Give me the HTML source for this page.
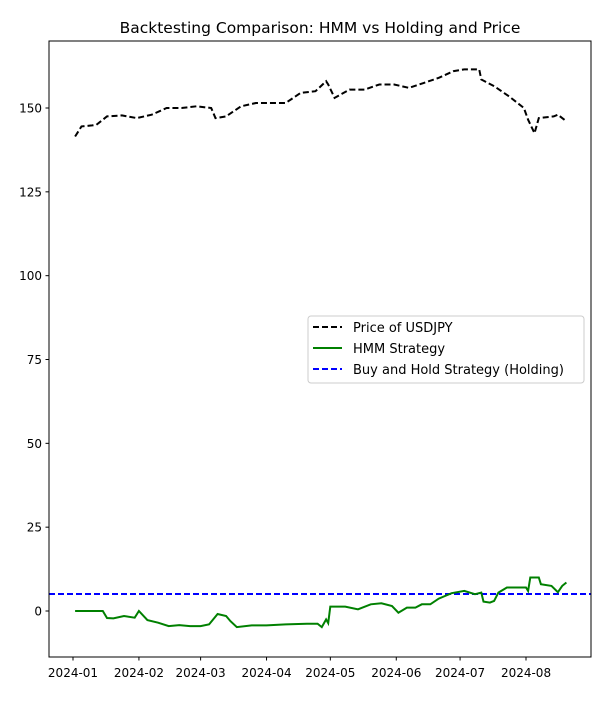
<!DOCTYPE html>
<html><head><meta charset="utf-8"><style>
body{margin:0;background:#fff;}
svg text{font-family:"DejaVu Sans","Liberation Sans",sans-serif;}
</style></head><body>
<svg id="chart" width="606" height="707" xmlns="http://www.w3.org/2000/svg">
<rect width="606" height="707" fill="#fff"/>
<text x="320" y="33" font-size="15.5" text-anchor="middle">Backtesting Comparison: HMM vs Holding and Price</text>
<g id="plot"></g>
<rect x="49" y="41" width="542" height="616" fill="none" stroke="#000" stroke-width="1"/>
<g id="ticks"></g>
<g>
<rect x="308" y="316" width="276" height="67" rx="3" fill="#fff" fill-opacity="0.85" stroke="#ccc"/>
<line x1="313" y1="327" x2="342" y2="327" stroke="#000" stroke-width="2" stroke-dasharray="6,3"/>
<text x="353" y="332" font-size="13">Price of USDJPY</text>
<line x1="313" y1="348" x2="342" y2="348" stroke="green" stroke-width="2"/>
<text x="353" y="353" font-size="13">HMM Strategy</text>
<line x1="313" y1="369" x2="342" y2="369" stroke="blue" stroke-width="2" stroke-dasharray="6,3"/>
<text x="353" y="374" font-size="13">Buy and Hold Strategy (Holding)</text>
</g>
</svg>
<script>
const priceDates=["2024-01-02","2024-01-05","2024-01-10","2024-01-12","2024-01-17","2024-01-24","2024-01-31","2024-02-07","2024-02-14","2024-02-21","2024-02-28","2024-03-06","2024-03-08","2024-03-13","2024-03-20","2024-03-27","2024-04-03","2024-04-10","2024-04-17","2024-04-24","2024-04-29","2024-04-30","2024-05-03","2024-05-10","2024-05-17","2024-05-24","2024-05-31","2024-06-07","2024-06-14","2024-06-21","2024-06-28","2024-07-03","2024-07-10","2024-07-11","2024-07-17","2024-07-24","2024-07-31","2024-08-02","2024-08-05","2024-08-07","2024-08-14","2024-08-16","2024-08-19","2024-08-20"];
const priceValues=[141.5,144.5,144.8,145,147.5,147.8,147,148,150,150,150.5,150,147,147.5,150.5,151.5,151.5,151.5,154.5,155,158,157,153,155.5,155.5,157,157,156,157.5,159,161,161.5,161.5,158.5,156.5,153.5,150,146.5,142.5,147,147.5,148,146.5,146];
const hmmDates=["2024-01-02","2024-01-15","2024-01-17","2024-01-20","2024-01-25","2024-01-30","2024-02-01","2024-02-05","2024-02-10","2024-02-15","2024-02-20","2024-02-25","2024-03-01","2024-03-05","2024-03-09","2024-03-13","2024-03-15","2024-03-18","2024-03-25","2024-04-01","2024-04-10","2024-04-20","2024-04-25","2024-04-27","2024-04-29","2024-04-30","2024-05-01","2024-05-08","2024-05-14","2024-05-20","2024-05-25","2024-05-30","2024-06-02","2024-06-06","2024-06-10","2024-06-13","2024-06-17","2024-06-21","2024-06-27","2024-07-03","2024-07-08","2024-07-11","2024-07-12","2024-07-15","2024-07-17","2024-07-19","2024-07-23","2024-08-01","2024-08-02","2024-08-03","2024-08-07","2024-08-08","2024-08-13","2024-08-16","2024-08-18","2024-08-20"];
const hmmValues=[0,0,-2.1,-2.2,-1.5,-2,0,-2.7,-3.5,-4.5,-4.2,-4.5,-4.5,-4,-0.9,-1.5,-3,-4.8,-4.3,-4.3,-4,-3.8,-3.8,-4.8,-2.5,-3.6,1.3,1.3,0.5,2,2.3,1.5,-0.5,1,1,2,2,3.7,5.3,6,5,5.5,2.8,2.5,3,5.5,7,7,6,10,10,8,7.5,5.6,7.5,8.5];
const holdingValue=[5.07];
const yTicks=[0,25,50,75,100,125,150];
const xTicks=["2024-01","2024-02","2024-03","2024-04","2024-05","2024-06","2024-07","2024-08"];
const NS="http://www.w3.org/2000/svg";
const t0=Date.UTC(2024,0,1);
function day(s){const p=s.split("-");return (Date.UTC(+p[0],+p[1]-1,p[2]?+p[2]:1)-t0)/86400000;}
function X(s){return 73+day(s)*2.1268;}
function Y(v){return 611-v*3.3533;}
const plot=document.getElementById("plot"),ticks=document.getElementById("ticks");
function mk(tag,attrs,parent){const e=document.createElementNS(NS,tag);for(const k in attrs)e.setAttribute(k,attrs[k]);parent.appendChild(e);return e;}
function path(dates,vals){return dates.map((d,i)=>(i?"L":"M")+X(d).toFixed(1)+","+Y(vals[i]).toFixed(1)).join("");}
const hold=mk("line",{x1:49,x2:591,y1:Y(holdingValue[0]),y2:Y(holdingValue[0]),stroke:"blue","stroke-width":2,"stroke-dasharray":"6,3"},plot);


const pl=mk("path",{d:path(priceDates,priceValues),fill:"none",stroke:"#000","stroke-width":2,"stroke-dasharray":"6,3"},plot);


const hl=mk("path",{d:path(hmmDates,hmmValues),fill:"none",stroke:"green","stroke-width":2},plot);


yTicks.forEach(v=>{const y=Y(v);
const tk=mk("line",{x1:45.5,x2:49,y1:y,y2:y,stroke:"#000"},ticks);


const t=mk("text",{x:42,y:y+4.5,"font-size":12,"text-anchor":"end"},ticks);t.textContent=v;

});
xTicks.forEach(s=>{const x=X(s);
const tk=mk("line",{x1:x,x2:x,y1:657,y2:660.5,stroke:"#000"},ticks);


const t=mk("text",{x:x,y:677,"font-size":12,"text-anchor":"middle"},ticks);t.textContent=s;

});
</script>
</body></html>
